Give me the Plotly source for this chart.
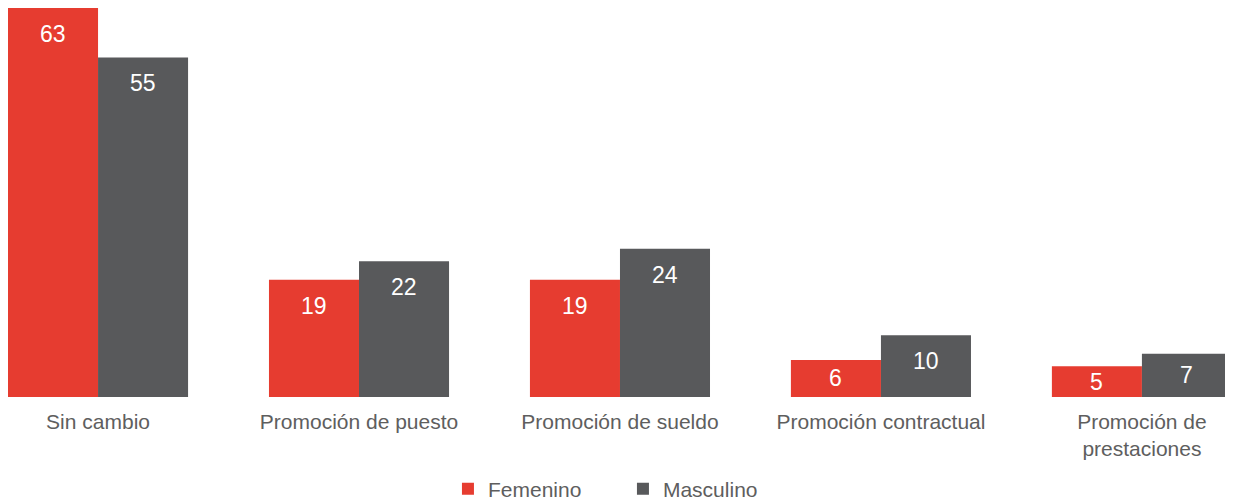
import plotly.graph_objects as go

categories = ["Sin cambio", "Promoción de puesto", "Promoción de sueldo",
              "Promoción contractual", "Promoción de<br>prestaciones"]
femenino = [63, 19, 19, 6, 5]
masculino = [55, 22, 24, 10, 7]

RED = "#E63C30"
GREY = "#58595B"
TXT = "#5E5E5E"
FONT = "Liberation Sans, Arial, sans-serif"

fig = go.Figure()
fig.add_trace(go.Bar(x=categories, y=femenino, name="Femenino",
                     marker=dict(color=RED, line=dict(width=0))))
fig.add_trace(go.Bar(x=categories, y=masculino, name="Masculino",
                     marker=dict(color=GREY, line=dict(width=0))))

YMAX = 63.0
PLOT_H = 389
pxu = PLOT_H / YMAX
anns = []
for i, c in enumerate(categories):
    for vals, xs in ((femenino, -45), (masculino, 45)):
        v = vals[i]
        h = v * pxu
        shift = -min(26, h / 2)
        anns.append(dict(x=c, y=v, xref="x", yref="y", text=str(v), showarrow=False,
                         xshift=xs, yshift=shift, font=dict(color="white", size=23, family=FONT),
                         yanchor="middle"))

fig.update_layout(
    width=1225, height=492,
    margin=dict(l=0, r=0, t=0, b=492 - PLOT_H, autoexpand=False),
    plot_bgcolor="white", paper_bgcolor="white",
    barmode="group", bargap=0.31, bargroupgap=0,
    font=dict(family=FONT, color=TXT, size=21),
    annotations=anns,
    showlegend=True,
    legend=dict(orientation="h", x=0.502, xanchor="center", y=-0.2365, yanchor="middle",
                font=dict(size=21, color=TXT), itemwidth=30, entrywidth=130,
                traceorder="normal"),
)
fig.update_xaxes(range=[-0.345, 4.349], showgrid=False, showline=False, zeroline=False,
                 ticks="", tickfont=dict(size=21, color=TXT), ticklabelstandoff=10,
                 automargin=False)
fig.update_yaxes(range=[0, YMAX], visible=False, automargin=False)

fig.write_html("out.html")
